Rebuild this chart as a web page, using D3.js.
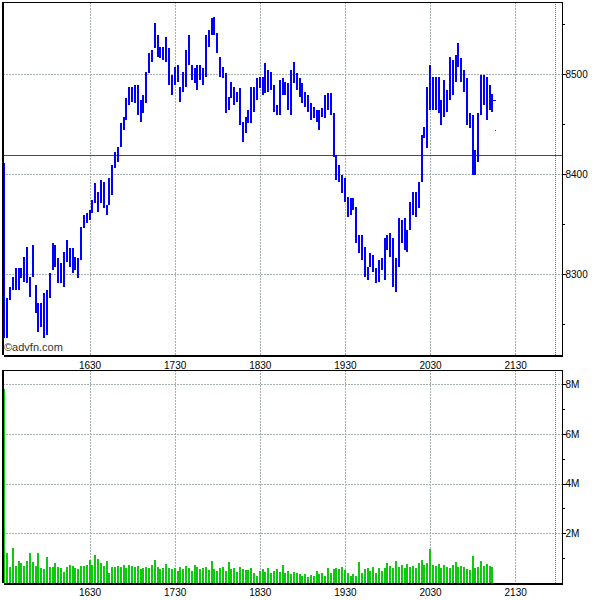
<!DOCTYPE html>
<html><head><meta charset="utf-8">
<script src="https://cdn.jsdelivr.net/npm/d3@7"></script>
<style>body{margin:0;background:#fff}svg{display:block}</style>
</head><body>
<svg id="c" width="600" height="600"></svg>
<script>
// ---------- data ----------
const firstBarTime = "15:30";
const barMinutes = 2;
const highs = [
8411,8276,8287,8297,8306,8306,8306,8317,8327,8297,
8329,8289,8271,8271,8281,8284,8301,8331,8329,8316,
8311,8322,8334,8326,8326,8317,8316,8347,8359,8361,
8364,8374,8391,8382,8394,8392,8369,8396,8409,8422,
8427,8451,8457,8476,8487,8487,8489,8489,8474,8479,
8502,8521,8524,8551,8539,8527,8527,8537,8526,8499,
8507,8509,8487,8502,8524,8539,8509,8506,8509,8509,
8506,8539,8544,8556,8557,8541,8517,8507,8501,8477,
8492,8487,8482,8486,8452,8457,8464,8487,8487,8496,
8497,8497,8511,8504,8502,8489,8469,8494,8496,8492,
8491,8504,8512,8501,8496,8491,8482,8479,8471,8467,
8464,8464,8466,8479,8481,8481,8461,8419,8409,8399,
8396,8377,8376,8376,8367,8339,8339,8327,8307,8321,
8319,8306,8314,8316,8336,8339,8341,8336,8316,8356,
8354,8356,8344,8372,8382,8382,8392,8439,8447,8487,
8509,8497,8497,8497,8474,8494,8484,8517,8514,8519,
8531,8516,8504,8496,8461,8459,8424,8461,8499,8499,
8497,8489,8480];
const lows = [
8236,8236,8274,8284,8284,8284,8296,8292,8291,8277,
8297,8261,8242,8247,8236,8239,8276,8304,8307,8291,
8291,8287,8312,8307,8301,8304,8296,8314,8346,8351,
8354,8361,8371,8362,8371,8366,8359,8369,8379,8406,
8412,8427,8444,8454,8469,8472,8471,8459,8452,8461,
8471,8501,8512,8526,8517,8516,8514,8512,8489,8479,
8489,8492,8472,8482,8487,8509,8494,8491,8484,8494,
8489,8497,8527,8539,8539,8521,8497,8496,8461,8464,
8476,8469,8472,8449,8432,8441,8451,8451,8462,8474,
8486,8479,8481,8482,8484,8462,8459,8459,8479,8479,
8464,8459,8491,8484,8477,8471,8467,8462,8454,8456,
8452,8444,8457,8456,8464,8459,8417,8394,8392,8381,
8372,8357,8359,8364,8331,8321,8314,8297,8294,8307,
8302,8291,8292,8304,8294,8324,8317,8287,8282,8307,
8331,8324,8322,8344,8359,8357,8366,8392,8436,8426,
8464,8464,8464,8461,8449,8457,8462,8474,8479,8492,
8507,8492,8482,8449,8446,8399,8399,8412,8459,8469,
8454,8464,8462];
// volume in millions of shares
const volumes = [
7.8,1.22,0.66,1.40,0.67,0.90,0.82,0.70,0.90,1.22,
0.85,0.68,1.22,0.62,0.55,1.04,0.64,0.66,0.80,0.64,
0.62,0.45,0.64,0.72,0.70,0.62,0.55,0.68,0.70,0.72,
0.93,0.72,1.13,0.95,0.80,0.70,0.90,0.40,0.66,0.64,
0.70,0.66,0.72,0.62,0.74,0.68,0.64,0.70,0.58,0.62,
0.66,0.60,0.72,0.93,0.64,0.58,0.62,0.77,0.60,0.55,
0.62,0.50,0.64,0.58,0.70,0.60,0.48,0.72,0.66,0.56,
0.60,0.64,0.52,0.88,0.58,0.50,0.62,0.66,0.48,0.84,
0.56,0.60,0.46,0.64,0.58,0.52,0.54,0.60,0.40,0.30,
0.48,0.55,0.45,0.60,0.40,0.50,0.58,0.44,0.73,0.42,
0.50,0.38,0.46,0.40,0.35,0.30,0.38,0.25,0.32,0.30,
0.49,0.36,0.40,0.30,0.60,0.42,0.58,0.62,0.55,0.65,
0.52,0.40,0.30,0.35,0.28,0.85,0.40,0.55,0.60,0.48,
0.65,0.42,0.62,0.50,0.60,0.82,0.70,0.60,0.88,0.66,
0.72,0.60,0.78,0.66,0.70,0.62,0.80,0.93,0.72,0.80,
1.37,0.74,0.70,0.78,0.62,0.72,0.66,0.60,0.74,0.86,
0.64,0.70,0.66,0.58,0.52,1.09,0.62,0.66,0.88,0.70,
0.77,0.68,0.66];
const prevClose = 8419;
const lastClose = 8474;
const lastTradeTime = "21:16";
const lastTradePrice = 8444;
const hourTicks = ["1630","1730","1830","1930","2030","2130"];
const priceTicks = [8300,8400,8500];
const priceMinorTicks = [8250,8350,8450,8550];
const volumeTicks = [2,4,6,8];
const volumeTickLabels = ["2M","4M","6M","8M"];
const volumeMinorTicks = [1,3,5,7];
const sessionEndTime = "21:58";
const watermark = "\u00A9advfn.com";

if (highs.length !== lows.length || highs.length !== volumes.length)
  throw new Error("length mismatch " + highs.length + " " + lows.length + " " + volumes.length);

// ---------- scales ----------
const toMin = s => { const d = s.replace(":", ""); return +d.slice(0, 2) * 60 + +d.slice(2); };
const t0 = toMin(firstBarTime);
const barTime = i => t0 + i * barMinutes;

const L = 3, R = 562;
const pTop = 2, pBot = 355, vTop = 370, vBot = 583;
const x = d3.scaleLinear().domain([toMin("15:29"), toMin("22:03")]).range([L, R]);
const yP = d3.scaleLinear().domain([8219, 8572]).range([pBot, pTop]);
const yV = d3.scaleLinear().domain([0, 8.57]).range([vBot, vTop]);

const svg = d3.select("#c");
svg.append("rect").attr("width", 600).attr("height", 600).attr("fill", "#fff");

const FONT = "'Liberation Sans', Arial, sans-serif";
const gridCol = "#a6b2b2";
const px = v => Math.round(v) + 0.5;

// clip paths
const defs = svg.append("defs");
defs.append("clipPath").attr("id", "cp").append("rect").attr("x", L).attr("y", pTop).attr("width", R - L).attr("height", pBot - pTop);
defs.append("clipPath").attr("id", "cv").append("rect").attr("x", L).attr("y", vTop).attr("width", R - L).attr("height", vBot - vTop);

// ---------- grid ----------
const grid = svg.append("g").attr("stroke", gridCol).attr("stroke-dasharray", "2,1").attr("shape-rendering", "crispEdges");
hourTicks.forEach(h => {
  const xx = px(x(toMin(h)));
  grid.append("line").attr("x1", xx).attr("x2", xx).attr("y1", pTop).attr("y2", pBot);
  grid.append("line").attr("x1", xx).attr("x2", xx).attr("y1", vTop).attr("y2", vBot);
});
priceTicks.forEach(p => {
  const yy = px(yP(p));
  grid.append("line").attr("x1", L).attr("x2", R).attr("y1", yy).attr("y2", yy);
});
volumeTicks.forEach(v => {
  const yy = px(yV(v));
  grid.append("line").attr("x1", L).attr("x2", R).attr("y1", yy).attr("y2", yy);
});
// session end marker
const se = px(x(toMin(sessionEndTime)));
svg.append("g").attr("stroke", "#707878").attr("stroke-dasharray", "1,1").attr("shape-rendering", "crispEdges")
  .selectAll("line").data([[pTop, pBot], [vTop, vBot]]).join("line")
  .attr("x1", se).attr("x2", se).attr("y1", d => d[0]).attr("y2", d => d[1]);

// previous close line
svg.append("line").attr("x1", L).attr("x2", R)
  .attr("y1", px(yP(prevClose))).attr("y2", px(yP(prevClose)))
  .attr("stroke", "#ff0000").attr("stroke-width", 1).attr("shape-rendering", "crispEdges");

// ---------- price bars ----------
const pg = svg.append("g").attr("clip-path", "url(#cp)").attr("shape-rendering", "crispEdges");
pg.selectAll("rect").data(highs).join("rect")
  .attr("x", (d, i) => Math.round(x(barTime(i))) - 1)
  .attr("width", 2)
  .attr("y", d => Math.round(yP(d)))
  .attr("height", (d, i) => Math.max(1, Math.round(yP(lows[i])) - Math.round(yP(d))))
  .attr("fill", "#0000ff");
// last close tick
const lastI = highs.length - 1;
pg.append("rect").attr("x", Math.round(x(barTime(lastI))) + 1).attr("width", 3)
  .attr("y", Math.round(yP(lastClose))).attr("height", 1).attr("fill", "#0000ff");
// last trade dot
pg.append("rect").attr("x", Math.round(x(toMin(lastTradeTime)))).attr("y", Math.round(yP(lastTradePrice)))
  .attr("width", 1).attr("height", 1).attr("fill", "#ff0000");

// ---------- volume bars ----------
const vg = svg.append("g").attr("clip-path", "url(#cv)").attr("shape-rendering", "crispEdges");
vg.selectAll("rect").data(volumes).join("rect")
  .attr("x", (d, i) => Math.round(x(barTime(i))) - 1)
  .attr("width", 2)
  .attr("y", d => Math.round(yV(d)))
  .attr("height", d => vBot - Math.round(yV(d)))
  .attr("fill", "#10c810");

// ---------- frames & axes ----------
const frame = svg.append("g").attr("fill", "none").attr("stroke", "#000").attr("shape-rendering", "crispEdges");
frame.append("path").attr("d", `M${R + 0.5},${pTop}V${pBot}`).attr("stroke-width", 1.5);
frame.append("path").attr("d", `M${L - 0.5},${pTop + 0.5}H${R}`).attr("stroke-width", 1.5);
frame.append("path").attr("d", `M${L - 0.5},${pTop}V${pBot}`).attr("stroke-width", 2);
frame.append("path").attr("d", `M${L - 0.5},${vTop + 0.5}H${R}`).attr("stroke-width", 1.5);
frame.append("path").attr("d", `M${L - 0.5},${vTop}V${vBot}`).attr("stroke-width", 2);
frame.append("path").attr("d", `M${R + 0.5},${vTop}V${vBot}`).attr("stroke-width", 1.5);

function styleAxis(g) {
  g.attr("font-family", FONT).attr("font-size", 10);
  g.selectAll("text").attr("fill", "#000");
  g.selectAll("line").attr("stroke", "#000").attr("shape-rendering", "crispEdges");
  g.select(".domain").attr("stroke", "#000").attr("stroke-width", 1.5).attr("shape-rendering", "crispEdges");
}

// price right axis
svg.append("g").attr("transform", `translate(${R + 0.5},0)`)
  .call(d3.axisRight(yP).tickValues(priceTicks).tickSize(3).tickPadding(0).tickSizeOuter(0).tickFormat(d3.format("d")))
  .call(styleAxis).call(g => g.select(".domain").remove());
svg.append("g").attr("transform", `translate(${R + 0.5},0)`)
  .call(d3.axisRight(yP).tickValues(priceMinorTicks).tickSize(2).tickFormat(""))
  .call(styleAxis).call(g => g.select(".domain").remove());

// volume right axis
svg.append("g").attr("transform", `translate(${R + 0.5},0)`)
  .call(d3.axisRight(yV).tickValues(volumeTicks).tickSize(3).tickPadding(0).tickFormat((d, i) => volumeTickLabels[i]))
  .call(styleAxis).call(g => g.select(".domain").remove());
svg.append("g").attr("transform", `translate(${R + 0.5},0)`)
  .call(d3.axisRight(yV).tickValues(volumeMinorTicks).tickSize(2).tickFormat(""))
  .call(styleAxis).call(g => g.select(".domain").remove());

// time axes
const hourVals = hourTicks.map(toMin);
svg.append("g").attr("transform", `translate(0,${pBot + 0.5})`)
  .call(d3.axisBottom(x).tickValues(hourVals).tickSize(0).tickPadding(6).tickSizeOuter(0).tickFormat((d, i) => hourTicks[i]))
  .call(styleAxis);
svg.append("g").attr("transform", `translate(0,${vBot + 0.5})`)
  .call(d3.axisBottom(x).tickValues(hourVals).tickSize(0).tickPadding(5).tickSizeOuter(0).tickFormat((d, i) => hourTicks[i]))
  .call(styleAxis);

// watermark
svg.append("text").attr("x", 4).attr("y", 351).attr("font-family", FONT).attr("font-size", 11)
  .attr("fill", "#333").text(watermark);
</script>
</body></html>
